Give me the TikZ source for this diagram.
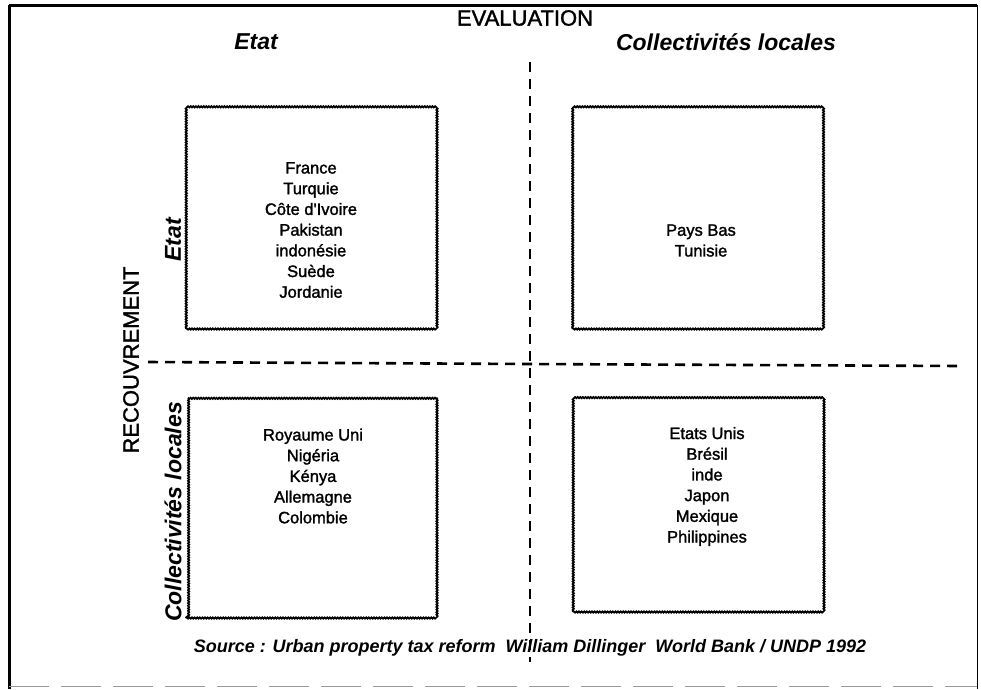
\documentclass[tikz,border=0pt]{standalone}
\usepackage{fontspec}
\setmainfont{Liberation Sans}
\newfontfamily\heavysans[FakeBold=1.6]{Liberation Sans}
\usetikzlibrary{decorations.pathmorphing}
\begin{document}
\begin{tikzpicture}[x=1pt,y=-1pt,
  cellbox/.style={draw=black,line width=1.8pt,minimum width=250pt,inner sep=0pt,
    decorate,decoration={snake,segment length=2.6pt,amplitude=0.6pt}},
  countries/.style={align=center,inner sep=0pt,font=\heavysans\fontsize{16.5}{20.7}\selectfont},
  axistitle/.style={inner sep=0pt,font=\heavysans\fontsize{22}{26}\selectfont},
  headtitle/.style={inner sep=0pt,font=\fontsize{23}{27}\selectfont\bfseries\itshape},
  divider/.style={line width=2.6pt,dash pattern=on 10pt off 7pt},
  frameline/.style={line width=3pt}]
\useasboundingbox (0,0) rectangle (981,689);

% outer frame
\coordinate (ftl) at (9,5);
\coordinate (ftr) at (977,5);
\coordinate (fbl) at (9,689);
\coordinate (fbr) at (977,689);
\draw[frameline] (ftl) -- (ftr);
\draw[frameline] (ftl) -- (fbl);
\draw[line width=1pt] (ftr) -- (fbr);
\draw[line width=0.8pt,black!40,dash pattern=on 40pt off 12pt] (9,686) -- (977,686);

% axis titles
\node[axistitle] (eval) at (525,18) {EVALUATION};
\node[axistitle,rotate=90] (recouv) at (131,360) {RECOUVREMENT};

% column and row headings
\node[headtitle] (colEtat) at (256,42) {Etat};
\node[headtitle] (colColl) at (726,42) {Collectivités locales};
\node[headtitle,rotate=90] (rowEtat) at (173,240) {Etat};
\node[headtitle,rotate=90] (rowColl) at (173,512) {Collectivités locales};

% dividing dashed lines
\coordinate (vtop) at (530,62);
\coordinate (vbot) at (530,662);
\coordinate (hleft) at (148,362);
\coordinate (hmid) at (530,364);
\coordinate (hright) at (962,366);
\draw[divider] (vtop) -- (vbot);
\draw[divider] (hleft) -- (hmid) -- (hright);

% the four boxes
\node[cellbox,minimum height=221pt] (boxTL) at (311,218.5) {};
\node[cellbox,minimum height=221pt] (boxTR) at (697.5,218.5) {};
\node[cellbox,minimum height=219pt] (boxBL) at (311,508.5) {};
\node[cellbox,minimum height=213pt] (boxBR) at (698,505.5) {};

% countries in each box
\node[countries] (listTL) at (311,230) {France\\Turquie\\Côte d'Ivoire\\Pakistan\\indonésie\\Suède\\Jordanie};
\node[countries] (listTR) at (701,240.5) {Pays Bas\\Tunisie};
\node[countries] (listBL) at (313,476) {Royaume Uni\\Nigéria\\Kénya\\Allemagne\\Colombie};
\node[countries] (listBR) at (707,486.5) {Etats Unis\\Brésil\\inde\\Japon\\Mexique\\Philippines};

% source line
\node[inner sep=0pt,font=\fontsize{18}{21}\selectfont\bfseries\itshape] (source) at (530,648)
  {Source : Urban property tax reform \ William Dillinger \ World Bank / UNDP 1992};
\end{tikzpicture}
\end{document}
